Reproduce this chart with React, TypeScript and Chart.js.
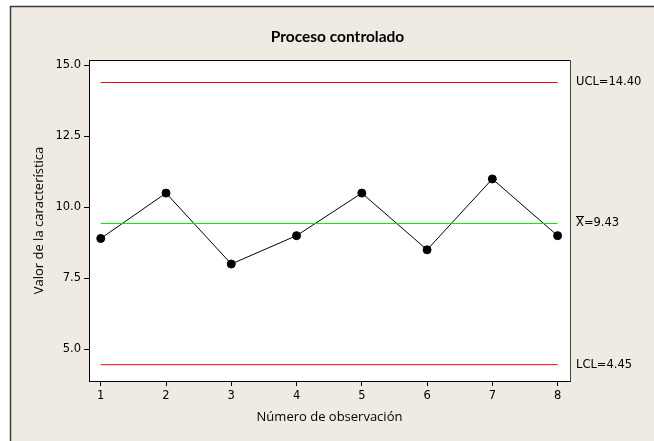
import { useEffect, useRef } from "react";
import { Chart, registerables } from "chart.js";

Chart.register(...registerables);

const observations = [1, 2, 3, 4, 5, 6, 7, 8];
const values = [8.9, 10.5, 8.0, 9.0, 10.5, 8.5, 11.0, 9.0];
const ucl = 14.4;
const centerLine = 9.43;
const lcl = 4.45;
const yTicks = [5.0, 7.5, 10.0, 12.5, 15.0];
const titleText = "Proceso controlado";
const xTitle = "Número de observación";
const yTitle = "Valor de la característica";
const uclLabel = "UCL=14.40";
const centerLabelRest = "=9.43";
const lclLabel = "LCL=4.45";

const BEIGE = "rgb(239,235,226)";
const TICK_FONT = "DejaVu Sans";
const LABEL_FONT = "Open Sans";

const framePlugin = {
  id: "framePlugin",
  beforeDraw(chart: any) {
    const { ctx, width, height, chartArea } = chart;
    ctx.save();
    ctx.fillStyle = "#ffffff";
    ctx.fillRect(0, 0, width, height);
    ctx.fillStyle = BEIGE;
    ctx.fillRect(10, 6, width - 10, height - 6);
    ctx.strokeStyle = "#3a3a3a";
    ctx.lineWidth = 1.5;
    ctx.beginPath();
    ctx.moveTo(10.5, height);
    ctx.lineTo(10.5, 6.5);
    ctx.lineTo(width, 6.5);
    ctx.stroke();
    ctx.fillStyle = "#ffffff";
    ctx.fillRect(chartArea.left, chartArea.top, chartArea.right - chartArea.left, chartArea.bottom - chartArea.top);
    ctx.restore();
  },
  afterDraw(chart: any) {
    const { ctx, chartArea } = chart;
    const yScale = chart.scales.y;
    ctx.save();
    ctx.lineWidth = 1;
    ctx.strokeStyle = "#000000";
    ctx.beginPath();
    ctx.moveTo(Math.round(chartArea.left) + 0.5, Math.round(chartArea.top) + 0.5);
    ctx.lineTo(Math.round(chartArea.right) + 0.5, Math.round(chartArea.top) + 0.5);
    ctx.stroke();
    ctx.strokeStyle = "#444444";
    ctx.beginPath();
    ctx.moveTo(Math.round(chartArea.right) + 0.5, Math.round(chartArea.top) + 0.5);
    ctx.lineTo(Math.round(chartArea.right) + 0.5, Math.round(chartArea.bottom) + 0.5);
    ctx.stroke();

    ctx.fillStyle = "#000000";
    ctx.font = "bold 15.5px Lato";
    ctx.textAlign = "center";
    ctx.textBaseline = "middle";
    ctx.fillText(titleText, (chartArea.left + chartArea.right) / 2 + 8, 37);

    ctx.font = `11.5px '${TICK_FONT}'`;
    ctx.textAlign = "left";
    const lx = chartArea.right + 6;
    ctx.fillText(uclLabel, lx, yScale.getPixelForValue(ucl));
    ctx.fillText(lclLabel, lx, yScale.getPixelForValue(lcl));
    const cy = yScale.getPixelForValue(centerLine);
    ctx.fillText("X", lx, cy);
    const wx = ctx.measureText("X").width;
    ctx.fillText(centerLabelRest, lx + wx, cy);
    ctx.lineWidth = 1;
    ctx.strokeStyle = "#000000";
    ctx.beginPath();
    ctx.moveTo(lx, Math.round(cy - 7) + 0.5);
    ctx.lineTo(lx + wx, Math.round(cy - 7) + 0.5);
    ctx.stroke();
    ctx.restore();
  },
};

export default function App() {
  const canvasRef = useRef<HTMLCanvasElement | null>(null);

  useEffect(() => {
    const canvas = canvasRef.current;
    if (!canvas) return;
    const first = observations[0];
    const last = observations[observations.length - 1];
    const chart = new Chart(canvas, {
      type: "line",
      data: {
        datasets: [
          {
            data: [{ x: first, y: ucl }, { x: last, y: ucl }],
            borderColor: "#ff0000",
            borderWidth: 1,
            pointRadius: 0,
          },
          {
            data: [{ x: first, y: lcl }, { x: last, y: lcl }],
            borderColor: "#ff0000",
            borderWidth: 1,
            pointRadius: 0,
          },
          {
            data: [{ x: first, y: centerLine }, { x: last, y: centerLine }],
            borderColor: "rgb(0,230,0)",
            borderWidth: 1,
            pointRadius: 0,
          },
          {
            data: observations.map((o, i) => ({ x: o, y: values[i] })),
            borderColor: "#000000",
            borderWidth: 1,
            pointRadius: 4,
            pointBackgroundColor: "#000000",
            pointBorderColor: "#000000",
            tension: 0,
          },
        ],
      },
      options: {
        responsive: false,
        animation: false,
        devicePixelRatio: 1,
        layout: { padding: { left: 24, right: 84, top: 60, bottom: 10 } },
        plugins: {
          legend: { display: false },
          title: { display: false },
          tooltip: { enabled: false },
        },
        scales: {
          x: {
            type: "linear",
            min: 0.82,
            max: 8.19,
            afterFit: (s: any) => {
              s.height = 50;
            },
            afterBuildTicks: (s: any) => {
              s.ticks = observations.map((v) => ({ value: v }));
            },
            ticks: {
              color: "#000000",
              font: { family: TICK_FONT, size: 11.5 },
              padding: 3,
              maxRotation: 0,
              callback: (v: any) => String(v),
            },
            grid: { drawOnChartArea: false, drawTicks: true, tickLength: 5, color: "#000000" },
            border: { color: "#000000", width: 1 },
            title: {
              display: true,
              text: xTitle,
              color: "#000000",
              font: { family: LABEL_FONT, size: 13 },
              padding: { top: 0, bottom: 6 },
            },
          },
          y: {
            type: "linear",
            min: 3.8746,
            max: 15.1934,
            afterFit: (s: any) => {
              s.width = 65;
            },
            afterBuildTicks: (s: any) => {
              s.ticks = yTicks.map((v) => ({ value: v }));
            },
            ticks: {
              color: "#000000",
              font: { family: TICK_FONT, size: 11.5 },
              padding: 3,
              callback: (v: any) => Number(v).toFixed(1),
            },
            grid: { drawOnChartArea: false, drawTicks: true, tickLength: 5, color: "#000000" },
            border: { color: "#000000", width: 1 },
            title: {
              display: true,
              text: yTitle,
              color: "#000000",
              font: { family: LABEL_FONT, size: 13 },
              padding: { top: 7, bottom: 0 },
            },
          },
        },
      },
      plugins: [framePlugin],
    });
    return () => chart.destroy();
  }, []);

  return (
    <div style={{ position: "absolute", left: 0, top: 0, width: 654, height: 441 }}>
      <canvas ref={canvasRef} width={654} height={441} />
    </div>
  );
}
